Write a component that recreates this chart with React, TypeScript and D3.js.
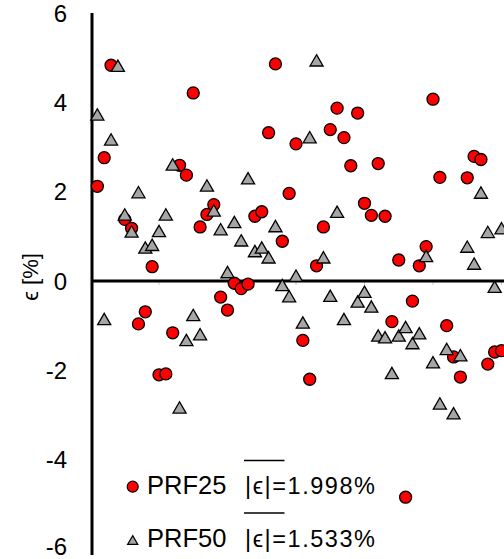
import React from "react";
import * as d3 from "d3";

// values read per sample index (1..60); null = no marker visible
const indices = d3.range(1, 61);
const prf25 = [
  2.12, 2.76, 4.83, null, 1.38, 1.18, -0.96, -0.69, 0.32, -2.1,
  -2.08, -1.16, 2.59, 2.37, 4.21, 1.21, 1.49, 1.71, -0.36, -0.65,
  -0.05, -0.17, -0.07, 1.45, 1.55, 3.32, 4.86, 0.89, 1.96, 3.07,
  -1.33, -2.2, 0.34, 1.21, 3.39, 3.87, 3.21, 2.58, 3.76, 1.74,
  1.47, 2.63, 1.45, -0.91, 0.47, -4.84, -0.45, 0.34, 0.77, 4.07,
  2.32, -1.0, -1.7, -2.15, 2.31, 2.79, 2.72, -1.86, -1.59, -1.56,
];
const prf50 = [
  3.71, -0.87, 3.15, 4.8, 1.47, 1.09, 1.97, 0.73, 0.79, 1.1,
  1.47, 2.59, -2.85, -1.34, -0.78, -1.21, 2.12, 1.56, 1.14, 0.18,
  1.3, 0.89, 2.28, 0.65, 0.73, 0.51, 1.21, -0.11, -0.36, 0.1,
  -0.95, 3.2, 4.92, 0.51, -0.35, 1.53, -0.87, null, -0.48, -0.26,
  -0.59, -1.24, -1.28, -2.08, -1.24, -1.05, -1.41, -1.19, 0.54, -1.84,
  -2.76, -1.54, -2.98, -1.68, 0.75, 0.37, 1.96, 1.08, -0.15, 1.16,
];
const yTicks = [6, 4, 2, 0, -2, -4, -6];
const xMinorTicks = [10, 20, 30, 40, 50, 60];
const legendItems = [
  { name: "PRF25", mean: "1.998%" },
  { name: "PRF50", mean: "1.533%" },
];

const W = 504;
const H = 559;
const font = "'Liberation Sans', Arial, sans-serif";

export default function App() {
  const x = d3.scaleLinear().domain([0, 60]).range([90.5, 501.5]);
  const y = d3.scaleLinear().domain([-6, 6]).range([549, 13]);
  const tri = d3.symbol(d3.symbolTriangle, 74)() as string;
  const axisX = 92;

  const pts25 = indices
    .map((i, k) => ({ i, v: prf25[k] }))
    .filter((d) => d.v !== null) as { i: number; v: number }[];
  const pts50 = indices
    .map((i, k) => ({ i, v: prf50[k] }))
    .filter((d) => d.v !== null) as { i: number; v: number }[];

  return (
    <svg
      width={W}
      height={H}
      style={{ position: "absolute", left: 0, top: 0, background: "#fff" }}
    >
      {/* y tick labels, bottom one kept inside the frame */}
      {yTicks.map((t) => (
        <text
          key={t}
          x={67}
          y={Math.min(y(t), 546)}
          dy="0.36em"
          textAnchor="end"
          fontFamily={font}
          fontSize={24}
          fill="#000"
        >
          {t}
        </text>
      ))}
      <text
        transform={`translate(38, 277) rotate(-90)`}
        textAnchor="middle"
        fontFamily={font}
        fontSize={22}
      >
        ϵ [%]
      </text>

      {/* faint x ticks on the zero line */}
      {xMinorTicks.map((t) => (
        <line
          key={t}
          x1={x(t)}
          x2={x(t)}
          y1={y(0)}
          y2={y(0) + 4}
          stroke="#c8c8c8"
          strokeWidth={1}
        />
      ))}

      {/* axes */}
      <line x1={axisX} x2={W} y1={y(0)} y2={y(0)} stroke="#000" strokeWidth={3} />
      <line x1={axisX} x2={axisX} y1={13} y2={555} stroke="#000" strokeWidth={3} />

      {/* PRF25 circles */}
      {pts25.map((d) => (
        <circle
          key={"c" + d.i}
          cx={x(d.i)}
          cy={y(d.v)}
          r={6}
          fill="#ff0000"
          stroke="#000"
          strokeWidth={1.3}
        />
      ))}

      {/* PRF50 triangles */}
      {pts50.map((d) => (
        <path
          key={"t" + d.i}
          d={tri}
          transform={`translate(${x(d.i)},${y(d.v) + 1})`}
          fill="#a6a6a6"
          stroke="#000"
          strokeWidth={1.3}
        />
      ))}

      {/* legend */}
      {legendItems.map((item, k) => {
        const baseY = k === 0 ? 494 : 546.5;
        const markerY = k === 0 ? 486.7 : 541.5;
        return (
          <g key={item.name}>
            {k === 0 ? (
              <circle cx={132.7} cy={markerY} r={5.5} fill="#ff0000" stroke="#000" strokeWidth={1.2} />
            ) : (
              <path
                d={d3.symbol(d3.symbolTriangle, 45)() as string}
                transform={`translate(132.7,${markerY})`}
                fill="#a6a6a6"
                stroke="#000"
                strokeWidth={1.2}
              />
            )}
            <text x={147} y={baseY} fontFamily={font} fontSize={25.5} fill="#000">
              {item.name}
            </text>
            <line
              x1={244}
              x2={284.5}
              y1={baseY - 33.5}
              y2={baseY - 33.5}
              stroke="#000"
              strokeWidth={1.3}
            />
            <text
              x={245}
              y={baseY}
              fontFamily={font}
              fontSize={23.5}
              fill="#000"
              textLength={130}
              lengthAdjust="spacing"
            >
              |ϵ|={item.mean}
            </text>
          </g>
        );
      })}
    </svg>
  );
}
